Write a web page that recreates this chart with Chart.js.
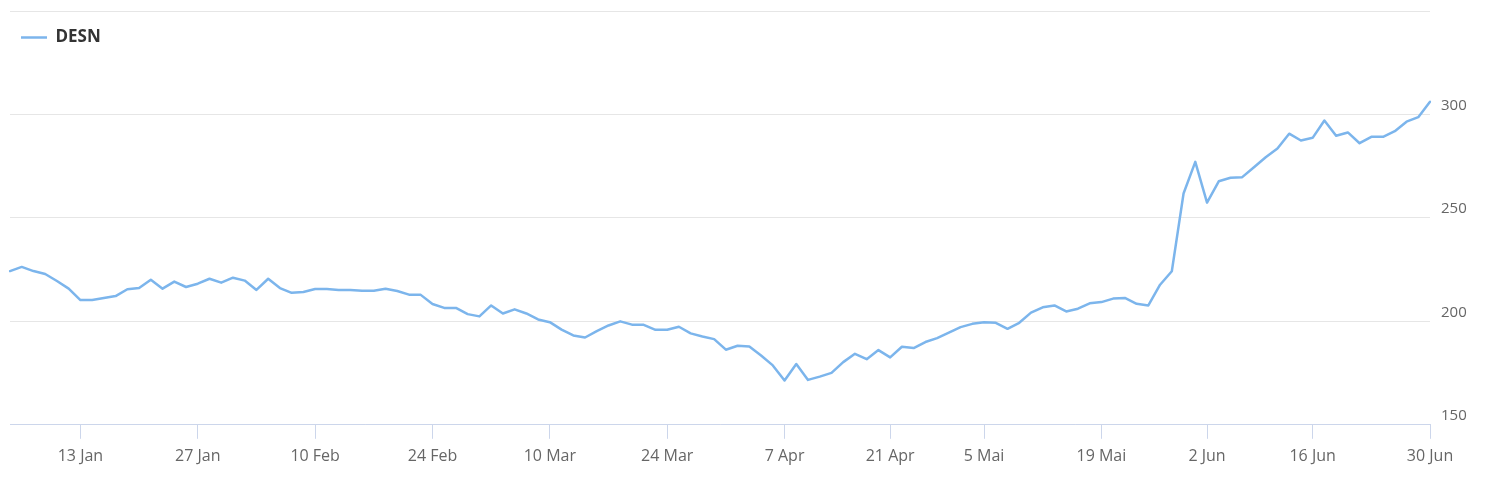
<!DOCTYPE html>
<html>
<head>
<meta charset="utf-8">
<script src="https://cdn.jsdelivr.net/npm/chart.js@4/dist/chart.umd.min.js"></script>
<style>
  html, body { margin: 0; padding: 0; background: #ffffff; }
  #wrap { width: 1498px; height: 487px; position: relative; }
</style>
</head>
<body>
<div id="wrap"><canvas id="c"></canvas></div>
<script>
const seriesName = 'DESN';

const tradingDays = [
  '2025-01-03','2025-01-06','2025-01-07','2025-01-08','2025-01-09','2025-01-10',
  '2025-01-13','2025-01-14','2025-01-15','2025-01-16','2025-01-17',
  '2025-01-20','2025-01-21','2025-01-22','2025-01-23','2025-01-24',
  '2025-01-27','2025-01-28','2025-01-29','2025-01-30','2025-01-31',
  '2025-02-03','2025-02-04','2025-02-05','2025-02-06','2025-02-07',
  '2025-02-10','2025-02-11','2025-02-12','2025-02-13','2025-02-14',
  '2025-02-17','2025-02-18','2025-02-19','2025-02-20','2025-02-21',
  '2025-02-24','2025-02-25','2025-02-26','2025-02-27','2025-02-28',
  '2025-03-03','2025-03-04','2025-03-05','2025-03-06','2025-03-07',
  '2025-03-10','2025-03-11','2025-03-12','2025-03-13','2025-03-14',
  '2025-03-17','2025-03-18','2025-03-19','2025-03-20','2025-03-21',
  '2025-03-24','2025-03-25','2025-03-26','2025-03-27','2025-03-28',
  '2025-03-31','2025-04-01','2025-04-02','2025-04-03','2025-04-04',
  '2025-04-07','2025-04-08','2025-04-09','2025-04-10','2025-04-11',
  '2025-04-14','2025-04-15','2025-04-16','2025-04-17',
  '2025-04-22','2025-04-23','2025-04-24','2025-04-25',
  '2025-04-28','2025-04-29','2025-04-30','2025-05-02',
  '2025-05-05','2025-05-06','2025-05-07','2025-05-08','2025-05-09',
  '2025-05-12','2025-05-13','2025-05-14','2025-05-15','2025-05-16',
  '2025-05-19','2025-05-20','2025-05-21','2025-05-22','2025-05-23',
  '2025-05-26','2025-05-27','2025-05-28','2025-05-30',
  '2025-06-02','2025-06-03','2025-06-04','2025-06-05','2025-06-06',
  '2025-06-10','2025-06-11','2025-06-12','2025-06-13',
  '2025-06-16','2025-06-17','2025-06-18','2025-06-19','2025-06-20',
  '2025-06-23','2025-06-24','2025-06-25','2025-06-26','2025-06-27',
  '2025-06-30'
];

const closePrices = [
  224.3, 226.3, 224.3, 222.9, 219.5, 215.8,
  210.3, 210.3, 211.3, 212.2, 215.5,
  216.1, 220.1, 215.8, 219.2, 216.6,
  218.2, 220.6, 218.7, 221.1, 219.7,
  215.2, 220.6, 216.1, 213.8, 214.2,
  215.6, 215.6, 215.2, 215.2, 214.8,
  214.8, 215.8, 214.7, 212.9, 212.8,
  208.4, 206.5, 206.5, 203.5, 202.4,
  207.7, 203.8, 205.8, 203.8, 200.9,
  199.6, 196.0, 193.2, 192.2, 195.3,
  198.0, 200.0, 198.4, 198.3, 195.9,
  195.9, 197.4, 194.2, 192.7, 191.4,
  186.3, 188.2, 187.8, 183.5, 178.7,
  171.4, 179.4, 171.7, 173.3, 175.1,
  180.3, 184.3, 181.7, 186.1,
  182.6, 187.7, 187.1, 190.0,
  191.9, 194.5, 197.2, 198.8,
  199.6, 199.3, 196.4, 199.3, 204.2,
  206.8, 207.7, 204.8, 206.1, 208.7,
  209.3, 211.0, 211.3, 208.5, 207.7,
  217.7, 224.2, 261.8, 277.1,
  257.4, 267.7, 269.4, 269.7, 274.5,
  279.3, 283.5, 290.7, 287.4,
  288.7, 297.1, 289.7, 291.3, 286.1,
  289.2, 289.2, 291.9, 296.5, 298.7,
  306.1
];

const tickDates  = ['2025-01-13','2025-01-27','2025-02-10','2025-02-24','2025-03-10','2025-03-24','2025-04-07','2025-04-22','2025-05-05','2025-05-19','2025-06-02','2025-06-16','2025-06-30'];
const tickLabels = ['13 Jan','27 Jan','10 Feb','24 Feb','10 Mar','24 Mar','7 Apr','21 Apr','5 Mai','19 Mai','2 Jun','16 Jun','30 Jun'];
const yTickLabels = [150, 200, 250, 300];
const yMin = 150, yMax = 350, yStep = 50;

new Chart(document.getElementById('c'), {
  type: 'line',
  data: {
    labels: tradingDays,
    datasets: [{
      label: seriesName,
      data: closePrices,
      borderColor: '#7cb5ec',
      backgroundColor: '#7cb5ec',
      borderWidth: 2.5,
      borderCapStyle: 'round',
      borderJoinStyle: 'round',
      pointRadius: 0,
      pointHoverRadius: 0,
      tension: 0,
      fill: false
    }]
  },
  options: {
    responsive: true,
    maintainAspectRatio: false,
    animation: false,
    layout: { padding: { left: 10, top: 11, right: 0, bottom: 13 } },
    plugins: {
      tooltip: { enabled: false },
      legend: {
        position: 'chartArea',
        align: 'start',
        title: { display: true, text: ' ', font: { size: 3, lineHeight: 1 }, padding: { top: 1, bottom: 14 } },
        labels: {
          usePointStyle: true,
          pointStyle: 'line',
          pointStyleWidth: 26,
          padding: 11,
          color: '#333333',
          font: { family: "'Open Sans', sans-serif", size: 17, weight: 'bold' }
        }
      }
    },
    scales: {
      x: {
        type: 'category',
        offset: false,
        afterBuildTicks: (axis) => {
          axis.ticks = axis.ticks.filter(t => tickDates.includes(tradingDays[t.value]));
        },
        ticks: {
          autoSkip: false,
          maxRotation: 0,
          minRotation: 0,
          padding: 8,
          color: '#666666',
          font: { family: "'Open Sans', sans-serif", size: 16 },
          callback: function (value) {
            const d = this.getLabelForValue(value);
            const k = tickDates.indexOf(d);
            return k >= 0 ? tickLabels[k] : '';
          }
        },
        grid: { drawOnChartArea: false, drawTicks: true, tickLength: 14, color: '#ccd6eb', lineWidth: 1 },
        border: { display: true, color: '#ccd6eb', width: 1 }
      },
      y: {
        position: 'right',
        min: yMin,
        max: yMax,
        afterFit: (scale) => { scale.width = 68; scale.paddingTop = 0; scale.paddingBottom = 0; },
        ticks: {
          stepSize: yStep,
          padding: 11,
          labelOffset: -9,
          color: '#666666',
          font: { family: "'Open Sans', sans-serif", size: 15 },
          callback: (v) => yTickLabels.includes(v) ? String(v) : ''
        },
        grid: { color: '#e6e6e6', lineWidth: 1, drawTicks: false },
        border: { display: false }
      }
    }
  }
});
</script>
</body>
</html>
